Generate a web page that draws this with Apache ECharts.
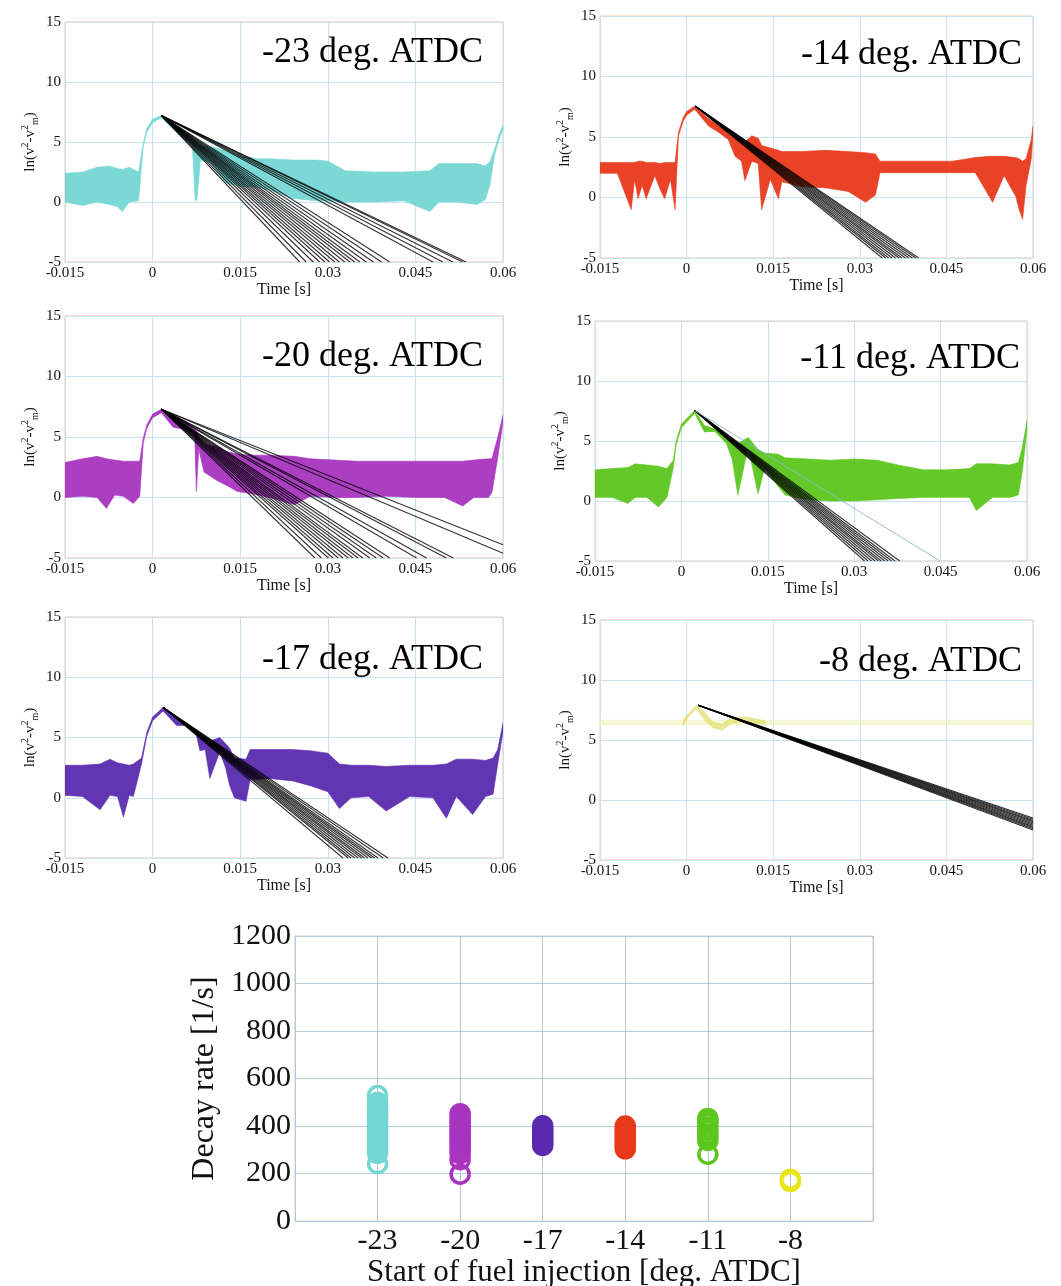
<!DOCTYPE html>
<html><head><meta charset="utf-8">
<script src="https://cdn.jsdelivr.net/npm/echarts@6/dist/echarts.min.js"></script>
<style>html,body{margin:0;padding:0;background:#fff}#c{width:1061px;height:1286px}</style>
</head><body><div id="c"></div>
<script>
// ---------------- DATA ----------------
const injection = [-23, -20, -17, -14, -11, -8];
const injectionTickLabels = ['', '-23', '-20', '-17', '-14', '-11', '-8', ''];
const decayTickLabels = ['0', '200', '400', '600', '800', '1000', '1200'];
const timeTickLabels = ['-0.015', '0', '0.015', '0.03', '0.045', '0.06'];
const lnTickLabels = ['-5', '0', '5', '10', '15'];

// -23 deg. ATDC signal envelope
const t23  = [-0.015,-0.012,-0.0095,-0.0075,-0.006,-0.0052,-0.004,-0.0024,-0.0016,-0.001,0,0.001,0.0015,0.003,0.005,0.0068,0.0073,0.0076,0.0082,0.010,0.0125,0.015,0.018,0.020,0.024,0.028,0.030,0.033,0.038,0.043,0.0475,0.049,0.052,0.0555,0.057,0.0578,0.0585,0.0593,0.060];
const hi23 = [2.4,2.5,2.9,3.0,2.8,2.7,2.9,2.5,4.9,6.1,6.9,7.1,7.2,6.6,5.8,5.1,4.9,4.8,4.7,4.6,4.3,3.9,3.6,3.6,3.5,3.5,3.4,2.6,2.5,2.5,2.6,3.2,3.2,3.2,3.0,3.4,4.3,5.6,6.4];
const lo23 = [0,-0.3,0,-0.2,-0.4,-0.8,0,0.1,4.6,5.8,6.6,6.9,7.0,6.3,5.4,4.7,0.1,0.2,3.5,3.3,1.6,1.3,1.2,1.0,0.3,0.1,0.1,0,0,0.1,-0.8,0,0,-0.2,0.2,1.5,3.8,5.2,6.0];
const fitStart23 = [0.0015, 7.2];
const fitEnd23 = [[0.0252,-5],[0.0263,-5],[0.0275,-5],[0.0286,-5],[0.0295,-5],[0.0303,-5],[0.0312,-5],[0.0320,-5],[0.0329,-5],[0.0338,-5],[0.0346,-5],[0.0355,-5],[0.0366,-5],[0.0378,-5],[0.0392,-5],[0.0406,-5],[0.0480,-5],[0.0497,-5],[0.0514,-5],[0.0531,-5],[0.0537,-5]];

// -14 deg. ATDC
const t14  = [-0.015,-0.012,-0.0096,-0.009,-0.0084,-0.0077,-0.007,-0.0055,-0.0046,-0.0038,-0.0028,-0.002,-0.0014,-0.0006,0,0.0014,0.0038,0.0055,0.0072,0.0084,0.0095,0.0101,0.0113,0.0124,0.013,0.0145,0.0159,0.0165,0.020,0.024,0.028,0.031,0.0327,0.0335,0.040,0.046,0.050,0.0524,0.053,0.055,0.057,0.0576,0.0582,0.0588,0.0597,0.060];
const hi14 = [2.9,2.9,2.9,2.9,3.0,3.0,2.9,2.9,2.8,2.9,2.9,2.9,5.4,6.6,7.1,7.55,6.5,6.0,5.4,5.0,4.8,4.6,5.1,4.9,4.3,4.1,3.9,3.8,3.8,3.9,3.8,3.7,3.6,3.0,3.0,3.0,3.3,3.4,3.4,3.4,3.3,3.2,3.0,3.2,4.8,5.9];
const lo14 = [2.0,2.0,-1.0,1.5,-0.1,1.0,-0.1,1.8,0.7,-0.1,1.5,-1.0,5.1,6.3,6.8,7.3,5.9,5.4,4.8,3.4,3.0,1.4,3.0,2.8,-1.0,1.5,-0.1,1.3,0.9,0.8,0.5,-0.4,0.2,2.05,2.05,2.05,2.05,0.1,-0.4,1.8,0.1,-1.0,-1.8,1.0,3.2,5.3];
const fitStart14 = [0.0015, 7.55];
const fitEnd14 = [[0.0339,-5],[0.0345,-5],[0.0350,-5],[0.0356,-5],[0.0362,-5],[0.0368,-5],[0.0373,-5],[0.0379,-5],[0.0385,-5],[0.0391,-5],[0.0397,-5],[0.0402,-5]];

// -20 deg. ATDC
const t20  = [-0.015,-0.012,-0.0095,-0.0079,-0.0065,-0.005,-0.0033,-0.0022,-0.0016,-0.001,0,0.0015,0.0035,0.0058,0.0072,0.0075,0.0079,0.0088,0.0110,0.0127,0.0145,0.017,0.020,0.0243,0.027,0.031,0.035,0.040,0.045,0.050,0.0531,0.055,0.0575,0.0581,0.059,0.060];
const hi20 = [2.9,3.2,3.4,3.2,3.1,3.0,3.0,3.0,4.9,6.0,6.9,7.3,6.8,6.2,5.6,5.5,5.0,4.4,4.2,3.8,3.6,3.5,3.5,3.4,3.2,3.1,3.0,3.0,3.0,3.0,3.0,3.1,3.2,3.2,4.8,6.8];
const lo20 = [0.0,0.1,0.0,-0.9,0.2,0.1,-0.5,0.1,4.5,5.7,6.6,7.0,5.8,5.6,5.2,0.5,4.0,2.1,1.4,1.0,0.5,0.3,0.0,-0.6,0.1,0.0,0.0,0.1,0.0,0.0,-0.7,0.0,0.0,0.4,3.0,6.2];
const fitStart20 = [0.0015, 7.3];
const fitEnd20 = [[0.0278,-5],[0.0289,-5],[0.0301,-5],[0.0309,-5],[0.0318,-5],[0.0326,-5],[0.0335,-5],[0.0343,-5],[0.0352,-5],[0.0360,-5],[0.0372,-5],[0.0383,-5],[0.0395,-5],[0.0406,-5],[0.0452,-5],[0.0469,-5],[0.0503,-5],[0.0515,-5],[0.060,-4.6],[0.060,-3.9]];

// -11 deg. ATDC
const t11  = [-0.015,-0.012,-0.0093,-0.008,-0.006,-0.004,-0.0025,-0.0014,-0.0009,0,0.0023,0.004,0.0058,0.0078,0.0088,0.0098,0.0116,0.0133,0.0145,0.0168,0.018,0.022,0.026,0.030,0.034,0.0376,0.042,0.046,0.050,0.0512,0.054,0.057,0.0585,0.0592,0.060];
const hi11 = [2.6,2.7,2.8,3.1,3.0,2.9,2.7,3.4,5.0,6.4,7.55,6.3,6.0,5.3,5.0,4.8,5.3,4.3,4.0,3.9,3.6,3.5,3.4,3.5,3.4,3.0,2.6,2.6,2.7,3.1,3.1,3.0,3.2,4.5,6.7];
const lo11 = [0.3,0.3,-0.2,0.3,0.3,-0.5,0.3,2.8,4.7,6.1,7.3,5.75,5.8,4.8,3.5,0.5,4.5,0.6,2.8,1.2,0.5,0.1,0.0,0.0,0.1,0.2,0.3,0.3,0.3,-0.8,0.3,0.3,0.5,2.5,6.0];
const fitStart11 = [0.0023, 7.55];
const fitEnd11 = [[0.0318,-5],[0.0324,-5],[0.0330,-5],[0.0336,-5],[0.0342,-5],[0.0347,-5],[0.0353,-5],[0.0359,-5],[0.0365,-5],[0.0371,-5],[0.0379,-5]];
const fitEndThin11 = [[0.0449,-5]];

// -17 deg. ATDC
const t17  = [-0.015,-0.012,-0.009,-0.0073,-0.006,-0.005,-0.004,-0.0033,-0.0019,-0.001,0,0.0018,0.0041,0.0058,0.0075,0.0081,0.009,0.0098,0.0115,0.0125,0.0132,0.014,0.016,0.0167,0.020,0.024,0.027,0.030,0.032,0.034,0.037,0.040,0.044,0.048,0.0503,0.052,0.0548,0.057,0.0583,0.0591,0.060];
const hi17 = [2.7,2.7,2.8,3.2,2.9,2.8,2.7,2.8,3.3,5.4,6.7,7.5,6.6,6.2,5.6,5.3,4.9,4.7,5.0,4.5,4.1,3.3,3.2,4.0,4.0,4.0,3.9,3.7,2.8,2.7,2.7,2.6,2.7,2.7,2.8,3.2,3.2,3.1,3.3,4.0,6.2];
const lo17 = [0.2,0.1,-1.0,0.2,0.1,-1.6,0.2,0.1,2.8,5.1,6.4,7.2,6.0,6.0,5.2,3.9,4.0,1.6,3.8,2.5,1.0,0.0,-0.3,1.5,1.6,1.4,1.0,0.5,-0.9,0.0,0.1,-1.1,0.1,0.0,-1.7,0.1,-1.4,0.1,0.3,2.8,5.5];
const fitStart17 = [0.0018, 7.5];
const fitEnd17 = [[0.0326,-5],[0.0335,-5],[0.0340,-5],[0.0346,-5],[0.0352,-5],[0.0358,-5],[0.0363,-5],[0.0369,-5],[0.0375,-5],[0.0380,-5],[0.0386,-5],[0.0395,-5],[0.0403,-5]];

// -8 deg. ATDC
const t8   = [-0.015,0.060];
const hi8  = [6.65,6.65];
const lo8  = [6.25,6.25];
const tPeak8  = [-0.0006,0.0003,0.0017,0.0032,0.0046,0.0061,0.0078,0.0107,0.0136];
const hiPeak8 = [6.7,7.2,7.9,7.3,6.5,6.3,6.9,6.9,6.6];
const loPeak8 = [6.2,6.9,7.6,6.6,6.0,5.8,6.4,6.5,6.3];
const fitStart8 = [0.002, 7.9];
const fitEnd8 = [[0.06,-1.5],[0.06,-1.6],[0.06,-1.7],[0.06,-1.8],[0.06,-1.9],[0.06,-2.0],[0.06,-2.1],[0.06,-2.2],[0.06,-2.3],[0.06,-2.4],[0.06,-2.5]];

// Decay rates [1/s]
const rate23 = [241, 285, 297, 311, 324, 336, 349, 361, 374, 388, 399, 413, 426, 438, 451, 463, 476, 489, 500, 528];
const rate20 = [197, 258, 284, 297, 311, 324, 338, 351, 363, 377, 390, 402, 415, 428, 440, 452];
const rate17 = [318, 329, 341, 352, 364, 377, 389, 401];
const rate14 = [304, 316, 327, 339, 352, 364, 376, 388, 400];
const rate11 = [281, 339, 352, 366, 381, 395, 409, 421, 432];
const rate8  = [166, 171, 176];

// ---------------- STYLE / LAYOUT ----------------
const SERIF = '"Liberation Serif", "Times New Roman", "DejaVu Serif", serif';
const panels = [
  {title:'-23 deg. ATDC', t:t23, lo:lo23, hi:hi23, start:fitStart23, ends:fitEnd23, color:'#74d6d3', g:{left:65, top:22, width:438, height:240}, tx:483, ty:53},
  {title:'-14 deg. ATDC', t:t14, lo:lo14, hi:hi14, start:fitStart14, ends:fitEnd14, color:'#e8381a', g:{left:600, top:16, width:433, height:242}, tx:1022, ty:55},
  {title:'-20 deg. ATDC', t:t20, lo:lo20, hi:hi20, start:fitStart20, ends:fitEnd20, color:'#a834bf', g:{left:65, top:316, width:438, height:242}, tx:483, ty:357},
  {title:'-11 deg. ATDC', t:t11, lo:lo11, hi:hi11, start:fitStart11, ends:fitEnd11, color:'#5cc61c', g:{left:595, top:321, width:432, height:240}, tx:1020, ty:359},
  {title:'-17 deg. ATDC', t:t17, lo:lo17, hi:hi17, start:fitStart17, ends:fitEnd17, color:'#5a2aae', g:{left:65, top:617, width:438, height:241}, tx:483, ty:660},
  {title:'-8 deg. ATDC',  t:t8,  lo:lo8,  hi:hi8,  start:fitStart8,  ends:fitEnd8,  color:'#eef3b4', g:{left:600, top:620, width:433, height:240}, tx:1022, ty:662}
];
const scatterColors = ['#74d6d3', '#a834bf', '#5a2aae', '#e8381a', '#5cc61c', '#e6e61a'];
const rates = [rate23, rate20, rate17, rate14, rate11, rate8];

const grids = [], xAxes = [], yAxes = [], series = [], graphics = [];

function bandSeries(i, t, lo, hi, color, opacity, z) {
  return {
    type: 'custom', xAxisIndex: i, yAxisIndex: i, silent: true, clip: true, z: z,
    data: t.map((x, k) => [x, lo[k], hi[k]]),
    renderItem: function (params, api) {
      if (params.dataIndex !== 0) return null;
      const top = [], bot = [];
      for (let k = 0; k < t.length; k++) {
        top.push(api.coord([t[k], hi[k]]));
        bot.push(api.coord([t[k], lo[k]]));
      }
      return { type: 'polygon', shape: { points: top.concat(bot.reverse()) },
               style: { fill: color, opacity: opacity, stroke: color, lineWidth: 0.6 } };
    }
  };
}

panels.forEach((p, i) => {
  grids.push(Object.assign({ show: true, borderColor: '#f3c2b0', borderWidth: 1, backgroundColor: '#fff', outerBoundsMode: 'none', containLabel: false }, p.g));
  xAxes.push({
    type: 'value', gridIndex: i, min: -0.015, max: 0.06, interval: 0.015,
    name: 'Time [s]', nameLocation: 'middle', nameGap: 18,
    nameTextStyle: { fontFamily: SERIF, fontSize: 16, color: '#111' },
    axisLine: { show: false }, axisTick: { show: false },
    axisLabel: { fontFamily: SERIF, fontSize: 15, color: '#111', margin: 4,
                 formatter: (v, idx) => timeTickLabels[idx] },
    splitLine: { show: true, lineStyle: { color: '#c6e3f3', width: 1 } }
  });
  yAxes.push({
    type: 'value', gridIndex: i, min: -5, max: 15, interval: 5,
    name: '{a|ln(v}{s|2}{a|-v}{s|2}{b|m}{a|)}', nameLocation: 'middle', nameGap: 25, nameRotate: 90,
    nameTextStyle: { rich: {
      a: { fontFamily: SERIF, fontSize: 15, color: '#111', lineHeight: 20 },
      s: { fontFamily: SERIF, fontSize: 10, color: '#111', verticalAlign: 'top' },
      b: { fontFamily: SERIF, fontSize: 10, color: '#111', verticalAlign: 'bottom' } } },
    axisLine: { show: false }, axisTick: { show: false },
    axisLabel: { fontFamily: SERIF, fontSize: 15, color: '#111', margin: 4,
                 formatter: (v, idx) => lnTickLabels[idx] },
    splitLine: { show: true, lineStyle: { color: '#c6e3f3', width: 1 } }
  });
  series.push(bandSeries(i, p.t, p.lo, p.hi, p.color, i === 5 ? 0.6 : 0.95, 2));
  if (i === 5) series.push(bandSeries(i, tPeak8, loPeak8, hiPeak8, '#e2dd6a', 0.7, 3));
  series.push({
    type: 'lines', coordinateSystem: 'cartesian2d', xAxisIndex: i, yAxisIndex: i, silent: true, z: 4,
    lineStyle: { color: '#000', width: 1.1, opacity: 0.8 },
    data: p.ends.map(e => ({ coords: [p.start, e] }))
  });
  if (i === 3) series.push({
    type: 'lines', coordinateSystem: 'cartesian2d', xAxisIndex: i, yAxisIndex: i, silent: true, z: 4,
    lineStyle: { color: '#8fb6cc', width: 1, opacity: 0.9 },
    data: fitEndThin11.map(e => ({ coords: [p.start, e] }))
  });
  graphics.push({ type: 'text', x: p.tx, y: p.ty, z: 100, silent: true,
    style: { text: p.title, font: '36px ' + SERIF, fill: '#000',
             align: 'right', textAlign: 'right', verticalAlign: 'middle', textVerticalAlign: 'middle' } });
});

// bottom scatter chart
const gi = 6;
grids.push({ left: 295, top: 936, width: 578, height: 285, show: true, borderColor: '#d9c9c2', borderWidth: 1, backgroundColor: '#fff', outerBoundsMode: 'none', containLabel: false });
xAxes.push({
  type: 'value', gridIndex: gi, min: -26, max: -5, interval: 3,
  name: 'Start of fuel injection [deg. ATDC]', nameLocation: 'middle', nameGap: 29,
  nameTextStyle: { fontFamily: SERIF, fontSize: 31, color: '#111' },
  axisLine: { show: true, lineStyle: { color: '#a9cde2' } }, axisTick: { show: false },
  axisLabel: { fontFamily: SERIF, fontSize: 30, color: '#111', margin: 5,
               formatter: (v, idx) => injectionTickLabels[idx] },
  splitLine: { show: true, lineStyle: { color: '#b9c6cf', width: 1 } }
});
yAxes.push({
  type: 'value', gridIndex: gi, min: 0, max: 1200, interval: 200,
  name: 'Decay rate [1/s]', nameLocation: 'middle', nameGap: 72, nameRotate: 90,
  nameTextStyle: { fontFamily: SERIF, fontSize: 32, color: '#111' },
  axisLine: { show: true, lineStyle: { color: '#a9cde2' } }, axisTick: { show: false },
  axisLabel: { fontFamily: SERIF, fontSize: 30, color: '#111', margin: 4,
               formatter: (v, idx) => decayTickLabels[idx] },
  splitLine: { show: true, lineStyle: { color: '#b3cddd', width: 1 } }
});
rates.forEach((r, k) => {
  series.push({
    type: 'scatter', xAxisIndex: gi, yAxisIndex: gi, silent: true, z: 5,
    symbol: 'circle', symbolSize: 18,
    itemStyle: { color: 'rgba(255,255,255,0)', borderColor: scatterColors[k], borderWidth: 3.5, opacity: 1 },
    data: r.map(v => [injection[k], v])
  });
});

const chart = echarts.init(document.getElementById('c'), null, { renderer: 'canvas' });
chart.setOption({
  animation: false,
  backgroundColor: '#fff',
  grid: grids, xAxis: xAxes, yAxis: yAxes, series: series, graphic: graphics
});
</script>
</body></html>
